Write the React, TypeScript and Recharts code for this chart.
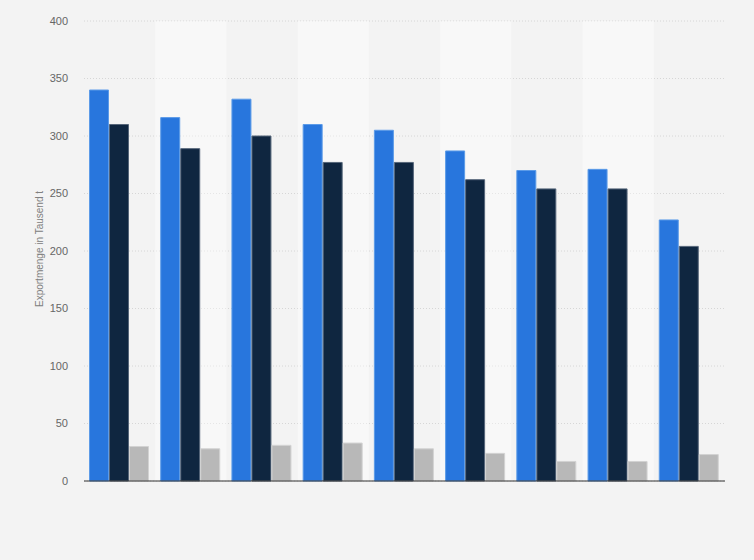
import { BarChart, Bar, XAxis, YAxis, CartesianGrid, ReferenceArea } from "recharts";

const categories = ["1", "2", "3", "4", "5", "6", "7", "8", "9"];
const seriesA = [340, 316, 332, 310, 305, 287, 270, 271, 227];
const seriesB = [310, 289, 300, 277, 277, 262, 254, 254, 204];
const seriesC = [30, 28, 31, 33, 28, 24, 17, 17, 23];
const yTicks = [0, 50, 100, 150, 200, 250, 300, 350, 400];

const data = categories.map((name, i) => ({
  name,
  a: seriesA[i],
  b: seriesB[i],
  c: seriesC[i],
}));

const font = "'Liberation Sans', Arial, sans-serif";

export default function App() {
  return (
    <div style={{ width: 754, height: 560, background: "#f3f3f3", fontFamily: font }}>
      <style>{`body{margin:0}`}</style>
      <BarChart
        width={754}
        height={560}
        data={data}
        margin={{ top: 21, right: 29, left: 0, bottom: 0 }}
        barCategoryGap={5.5}
        barGap={1}
      >
        <CartesianGrid vertical={false} stroke="#d6d6d6" strokeDasharray="1 2" />
        {categories
          .filter((_, i) => i % 2 === 1)
          .map((c) => (
            <ReferenceArea key={c} x1={c} x2={c} fill="#ffffff" fillOpacity={0.4} stroke="none" />
          ))}
        <XAxis dataKey="name" tick={false} tickLine={false} height={79} axisLine={{ stroke: "#333333" }} />
        <YAxis
          width={84}
          domain={[0, 400]}
          ticks={yTicks}
          axisLine={false}
          tickLine={false}
          tickSize={0}
          tickMargin={16}
          tick={{ fill: "#666666", fontSize: 11, fontFamily: font }}
          label={{
            value: "Exportmenge in Tausend t",
            angle: -90,
            position: "insideLeft",
            offset: 39,
            dy: -2,
            style: { textAnchor: "middle", fill: "#808080", fontSize: 10, fontFamily: font },
          }}
        />
        <Bar dataKey="a" fill="#2876dd" stroke="#5c9be8" strokeWidth={1} isAnimationActive={false} />
        <Bar dataKey="b" fill="#0f2640" stroke="#56667a" strokeWidth={1} isAnimationActive={false} />
        <Bar dataKey="c" fill="#b8b8b8" stroke="#d2d2d2" strokeWidth={1} isAnimationActive={false} />
      </BarChart>
    </div>
  );
}
